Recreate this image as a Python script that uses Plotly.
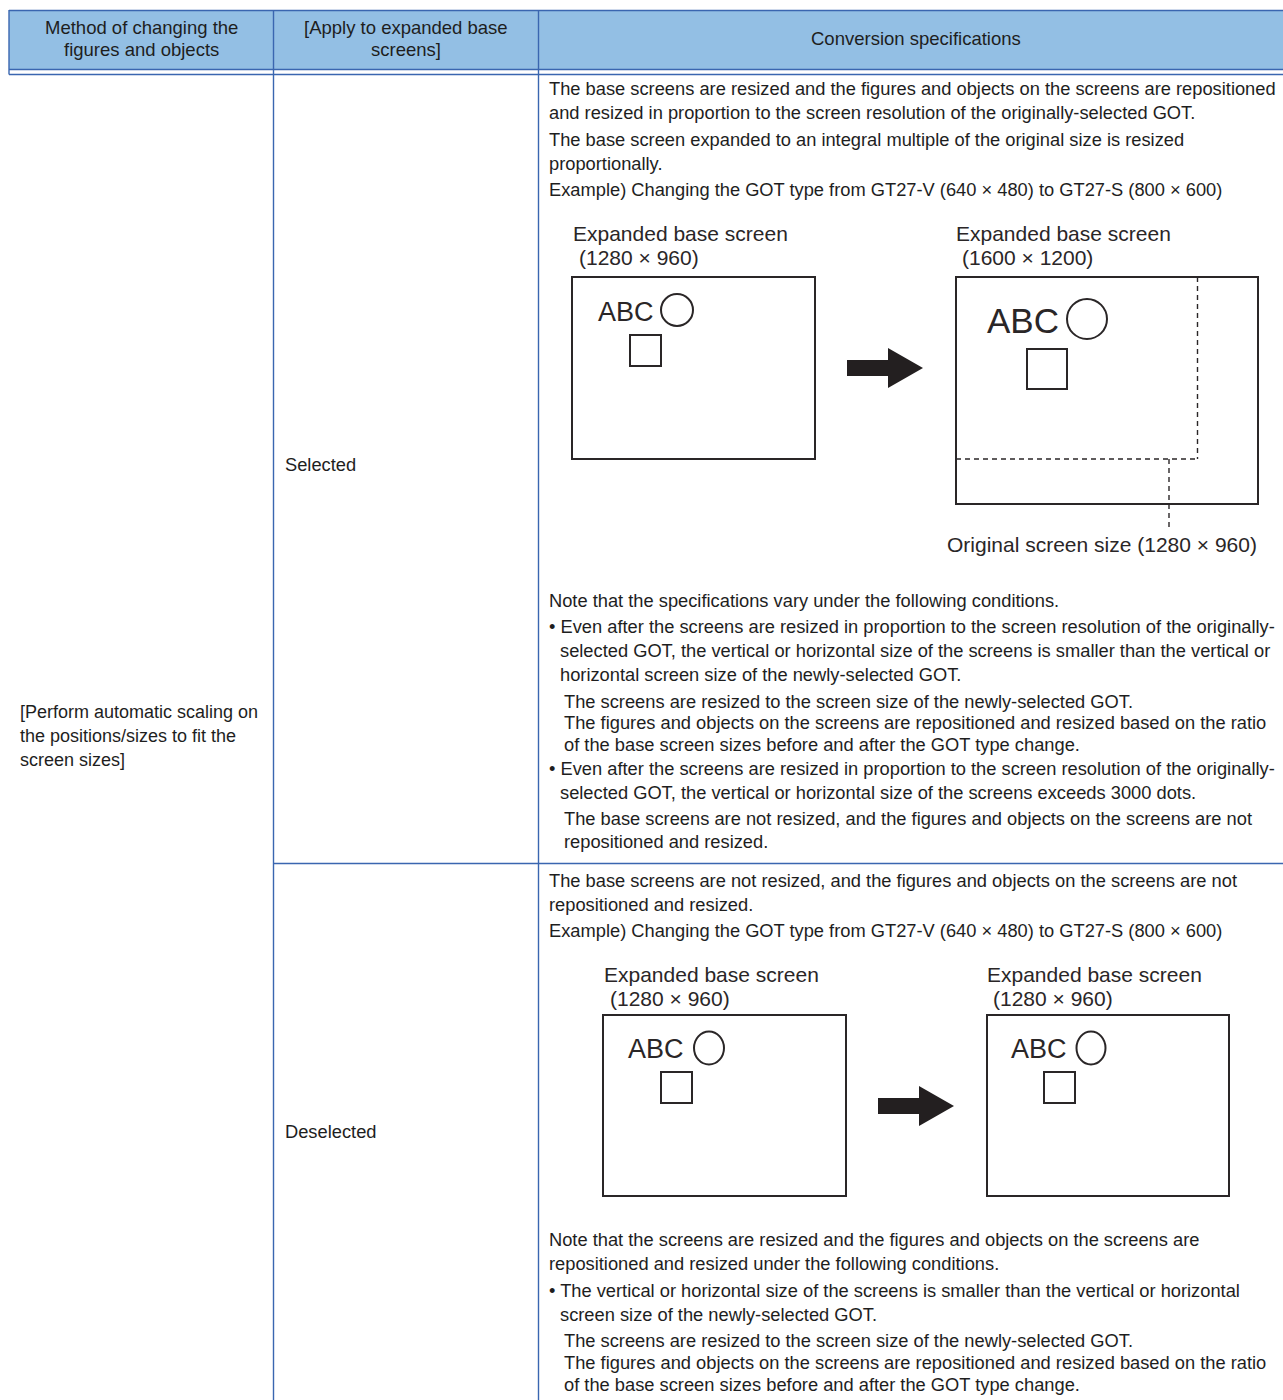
import plotly.graph_objects as go

W, H = 1283, 1400
FONT = "Liberation Sans, Arial, sans-serif"
LINE = "#3a66b0"
HEAD_FILL = "#93bfe4"
TXT = "#1e1e1e"
DIA = "#2a2627"
PAD = 2  # annotation inner padding compensation

# ---------------- table content ----------------
header_labels = ["Method of changing the", "figures and objects",
                 "[Apply to expanded base", "screens]",
                 "Conversion specifications"]
header_x = [141, 141, 406, 406, 916]
header_y = [27, 49, 27, 49, 38]

method_lines = ["[Perform automatic scaling on", "the positions/sizes to fit the", "screen sizes]"]
method_y = [712, 736, 760]

option_labels = ["Selected", "Deselected"]
option_y = [464, 1131]

spec_text = [
    "The base screens are resized and the figures and objects on the screens are repositioned",
    "and resized in proportion to the screen resolution of the originally-selected GOT.",
    "The base screen expanded to an integral multiple of the original size is resized",
    "proportionally.",
    "Example) Changing the GOT type from GT27-V (640 × 480) to GT27-S (800 × 600)",
    "Note that the specifications vary under the following conditions.",
    "• Even after the screens are resized in proportion to the screen resolution of the originally-",
    "selected GOT, the vertical or horizontal size of the screens is smaller than the vertical or",
    "horizontal screen size of the newly-selected GOT.",
    "The screens are resized to the screen size of the newly-selected GOT.",
    "The figures and objects on the screens are repositioned and resized based on the ratio",
    "of the base screen sizes before and after the GOT type change.",
    "• Even after the screens are resized in proportion to the screen resolution of the originally-",
    "selected GOT, the vertical or horizontal size of the screens exceeds 3000 dots.",
    "The base screens are not resized, and the figures and objects on the screens are not",
    "repositioned and resized.",
    "The base screens are not resized, and the figures and objects on the screens are not",
    "repositioned and resized.",
    "Example) Changing the GOT type from GT27-V (640 × 480) to GT27-S (800 × 600)",
    "Note that the screens are resized and the figures and objects on the screens are",
    "repositioned and resized under the following conditions.",
    "• The vertical or horizontal size of the screens is smaller than the vertical or horizontal",
    "screen size of the newly-selected GOT.",
    "The screens are resized to the screen size of the newly-selected GOT.",
    "The figures and objects on the screens are repositioned and resized based on the ratio",
    "of the base screen sizes before and after the GOT type change.",
]
spec_x = [549, 549, 549, 549, 549, 549, 549, 560, 560, 564, 564, 564, 549, 560, 564, 564,
          549, 549, 549, 549, 549, 549, 560, 564, 564, 564]
spec_y = [88, 112, 139, 163, 189, 600, 626, 650, 674, 701, 722, 744, 768, 792, 818, 841,
          880, 904, 930, 1239, 1263, 1290, 1314, 1340, 1362, 1384]

# ---------------- diagram content ----------------
caption_text = ["Expanded base screen", "(1280 × 960)", "Expanded base screen", "(1600 × 1200)",
                "Original screen size (1280 × 960)",
                "Expanded base screen", "(1280 × 960)", "Expanded base screen", "(1280 × 960)"]
caption_x = [572, 578, 955, 961, 946, 603, 609, 986, 992]
caption_y = [233, 257, 233, 257, 544, 974, 998, 974, 998]

screen_boxes = [(572, 277, 815, 459), (956, 277, 1258, 504), (603, 1015, 846, 1196), (987, 1015, 1229, 1196)]
abc_pos = [(598, 312, 27), (987, 320, 35), (628, 1049, 27), (1011, 1049, 27)]
circles = [(677, 310, 16, 16), (1087, 319, 20, 20), (709, 1048, 15, 16.5), (1091, 1048, 14.5, 16.5)]
squares = [(630, 335, 661, 366), (1027, 349, 1067, 389), (661, 1072, 692, 1103), (1044, 1072, 1075, 1103)]
arrows = [(847, 368), (878, 1106)]

fig = go.Figure()
shapes = []
ann = []

# header fill and lines
shapes.append(dict(type="rect", x0=9, y0=10, x1=W + 2, y1=69.5,
                   fillcolor=HEAD_FILL, line=dict(width=0), layer="below"))
for yv in [10.5, 69.5, 74.5]:
    shapes.append(dict(type="line", x0=9, x1=W + 2, y0=yv, y1=yv, line=dict(color=LINE, width=1.4)))
shapes.append(dict(type="line", x0=9, x1=9, y0=10, y1=74.5, line=dict(color=LINE, width=1.4)))
for xv in [273.5, 538.5]:
    shapes.append(dict(type="line", x0=xv, x1=xv, y0=10, y1=H + 2, line=dict(color=LINE, width=1.4)))
shapes.append(dict(type="line", x0=273.5, x1=W + 2, y0=863.5, y1=863.5, line=dict(color=LINE, width=1.4)))

for t, x, y in zip(header_labels, header_x, header_y):
    ann.append(dict(x=x, y=y, text=t, xanchor="center", yanchor="middle",
                    font=dict(size=18.5, color=TXT, family=FONT)))
for t, y in zip(method_lines, method_y):
    ann.append(dict(x=19 - 1, y=y, text=t, xanchor="left", yanchor="middle",
                    font=dict(size=18, color=TXT, family=FONT)))
for t, y in zip(option_labels, option_y):
    ann.append(dict(x=284 - 1, y=y, text=t, xanchor="left", yanchor="middle",
                    font=dict(size=18.3, color=TXT, family=FONT)))
for t, x, y in zip(spec_text, spec_x, spec_y):
    ann.append(dict(x=x - PAD, y=y, text=t, xanchor="left", yanchor="middle",
                    font=dict(size=18.3, color=TXT, family=FONT)))
for t, x, y in zip(caption_text, caption_x, caption_y):
    ann.append(dict(x=x - 1, y=y, text=t, xanchor="left", yanchor="middle",
                    font=dict(size=21, color=DIA, family=FONT)))

# diagram shapes
for (x0, y0, x1, y1) in screen_boxes:
    shapes.append(dict(type="rect", x0=x0, y0=y0, x1=x1, y1=y1, line=dict(color=DIA, width=2)))
for (x, y, s) in abc_pos:
    ann.append(dict(x=x - PAD, y=y, text="ABC", xanchor="left", yanchor="middle",
                    font=dict(size=s, color=DIA, family=FONT)))
for (cx, cy, rx, ry) in circles:
    shapes.append(dict(type="circle", x0=cx - rx, x1=cx + rx, y0=cy - ry, y1=cy + ry,
                       line=dict(color=DIA, width=2)))
for (x0, y0, x1, y1) in squares:
    shapes.append(dict(type="rect", x0=x0, y0=y0, x1=x1, y1=y1, line=dict(color=DIA, width=2)))
for (ax, ay) in arrows:
    p = (f"M {ax},{ay-8} L {ax+41},{ay-8} L {ax+41},{ay-20} L {ax+76},{ay} "
         f"L {ax+41},{ay+20} L {ax+41},{ay+8} L {ax},{ay+8} Z")
    shapes.append(dict(type="path", path=p, fillcolor="#231f20", line=dict(width=0)))

# dashed original-size outline
dash = dict(color=DIA, width=1.4, dash="5px,4px")
shapes.append(dict(type="line", x0=1197.5, x1=1197.5, y0=277, y1=459, line=dash))
shapes.append(dict(type="line", x0=956, x1=1197.5, y0=459, y1=459, line=dash))
shapes.append(dict(type="line", x0=1169, x1=1169, y0=459, y1=528, line=dash))

fig.update_layout(
    width=W, height=H, margin=dict(l=0, r=0, t=0, b=0),
    paper_bgcolor="white", plot_bgcolor="white",
    xaxis=dict(range=[0, W], visible=False, fixedrange=True),
    yaxis=dict(range=[H, 0], visible=False, fixedrange=True),
    shapes=shapes, annotations=[dict(a, showarrow=False) for a in ann],
    showlegend=False,
)
fig.write_html("out.html", config={"displayModeBar": False},
               post_script="document.body.style.margin='0';document.body.style.overflow='hidden';")
